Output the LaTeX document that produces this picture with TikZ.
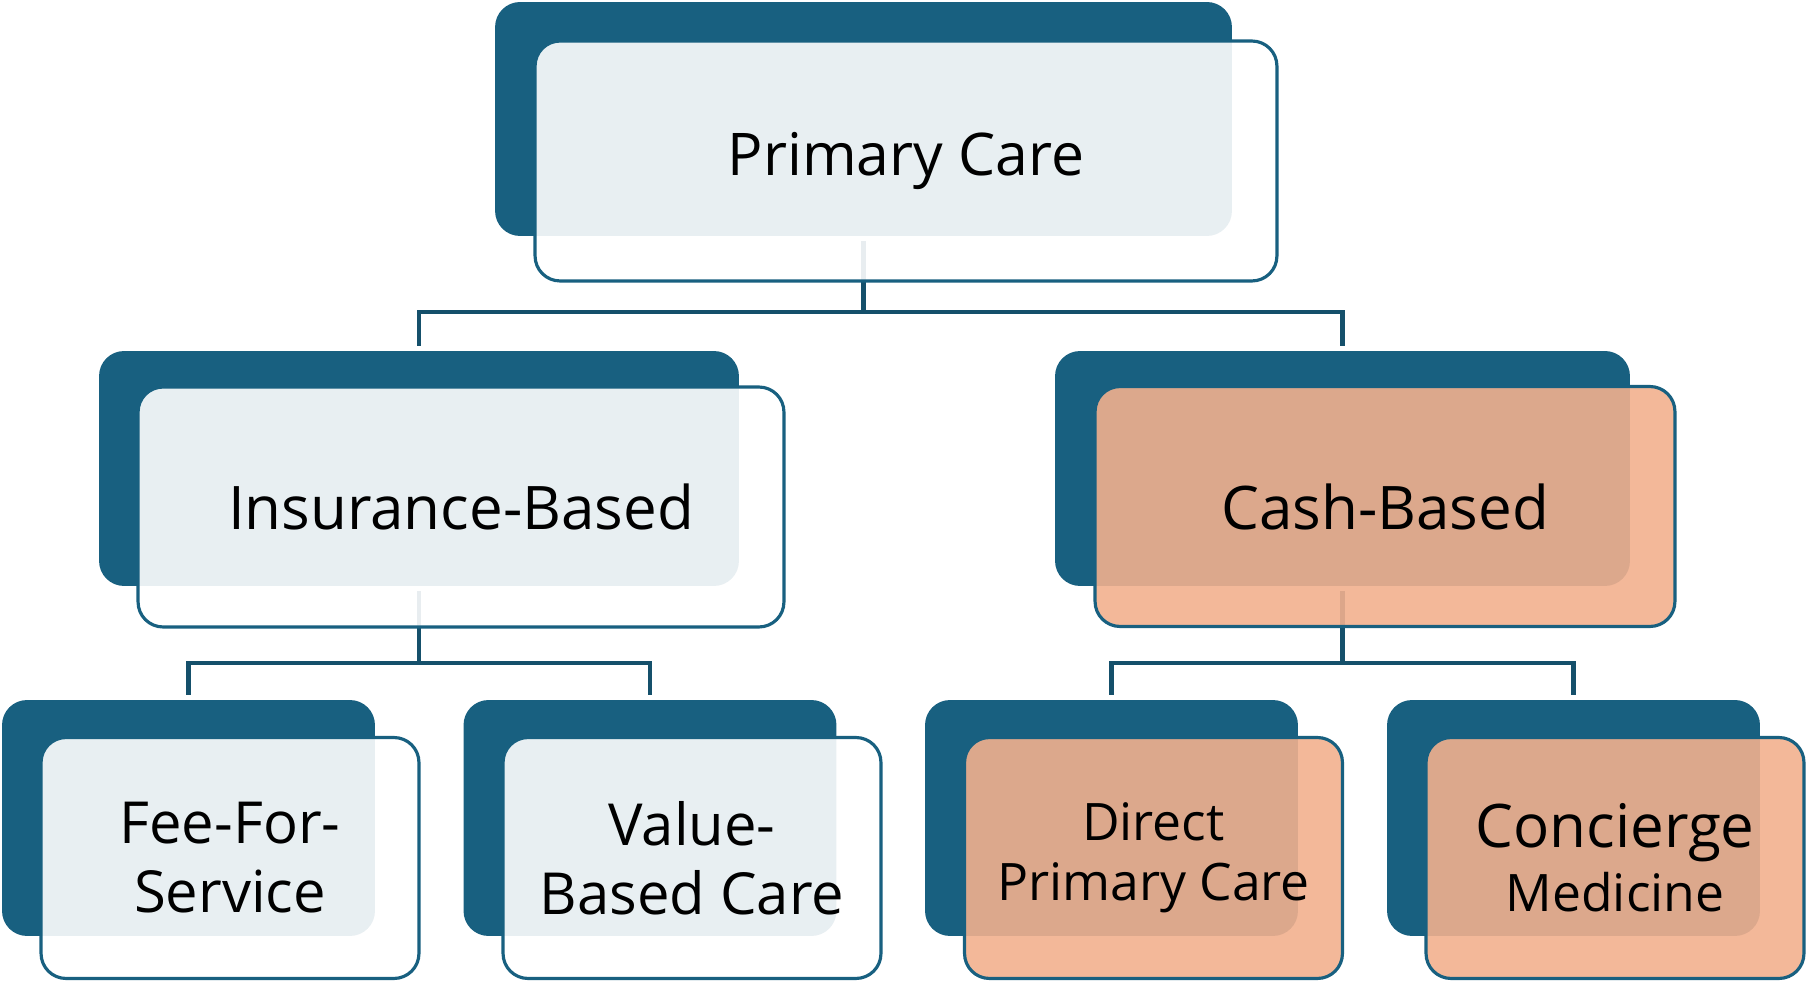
\documentclass[tikz,border=0pt]{standalone}
\usepackage{fontspec}
\setmainfont{Open Sans}
\definecolor{navy}{RGB}{24,96,128}
\definecolor{linknavy}{RGB}{21,80,107}
\definecolor{peach}{RGB}{242,176,142}

\begin{document}
\begin{tikzpicture}[x=0.02cm,y=-0.02cm,
  back/.style={fill=navy, rounded corners=0.5cm, inner sep=0pt, outer sep=0pt},
  front/.style={draw=navy, line width=1.8pt, fill=white, fill opacity=0.9, text opacity=1,
    rounded corners=0.5cm, inner sep=0pt, outer sep=0pt, align=center},
  cash/.style={front, fill=peach},
  link/.style={draw=linknavy, line width=2.3pt},
  topbox/.style={minimum width=14.74cm, minimum height=4.68cm},
  insbox/.style={minimum width=12.8cm, minimum height=4.7cm},
  cashbox/.style={minimum width=11.5cm, minimum height=4.7cm},
  leafbox/.style={minimum width=7.46cm, minimum height=4.72cm}]
\useasboundingbox (0,0) rectangle (1806,982);
%----------back plates-------------------------
\node[back, topbox] (pc-b) at (863.5,119) {};
\node[back, insbox] (ins-b) at (419,468.5) {};
\node[back, cashbox] (cash-b) at (1342.5,468.5) {};
\node[back, leafbox] (fee-b) at (188.5,818) {};
\node[back, leafbox] (val-b) at (650,818) {};
\node[back, leafbox] (dpc-b) at (1111.5,818) {};
\node[back, leafbox] (con-b) at (1573.5,818) {};
%----------links-------------------------------
\draw[link] ([yshift=-0.1cm]pc-b.south) -- ++(0,71) coordinate (pc-bar);
\draw[link] (pc-bar) -| ([yshift=0.1cm]ins-b.north);
\draw[link] (pc-bar) -| ([yshift=0.1cm]cash-b.north);
\draw[link] ([yshift=-0.1cm]ins-b.south) -- ++(0,72) coordinate (ins-bar);
\draw[link] (ins-bar) -| ([yshift=0.1cm]fee-b.north);
\draw[link] (ins-bar) -| ([yshift=0.1cm]val-b.north);
\draw[link] ([yshift=-0.1cm]cash-b.south) -- ++(0,72) coordinate (cash-bar);
\draw[link] (cash-bar) -| ([yshift=0.1cm]dpc-b.north);
\draw[link] (cash-bar) -| ([yshift=0.1cm]con-b.north);
%----------front cards-------------------------
\node[front, minimum width=14.84cm, minimum height=4.8cm,
  font=\fontsize{33.5}{40}\selectfont] (pc) at (906,161) {Primary Care};
\node[front, minimum width=12.92cm, minimum height=4.8cm,
  font=\fontsize{34.2}{40}\selectfont] (ins) at (461,507) {Insurance-Based};
\node[cash, minimum width=11.6cm, minimum height=4.8cm,
  font=\fontsize{34.2}{40}\selectfont] (cash) at (1385,506.5) {Cash-Based};
\node[front, minimum width=7.56cm, minimum height=4.82cm,
  font=\fontsize{33}{39.3}\selectfont] (fee) at (230,858) {Fee-For-\\Service};
\node[front, minimum width=7.56cm, minimum height=4.82cm,
  font=\fontsize{33}{39.3}\selectfont] (val) at (692,858) {Value-\\Based Care};
\node[cash, minimum width=7.56cm, minimum height=4.82cm,
  font=\fontsize{29.4}{34.1}\selectfont] (dpc) at (1153.5,858) {Direct\\Primary Care};
\node[cash, minimum width=7.56cm, minimum height=4.82cm,
  font=\fontsize{29.4}{36.4}\selectfont] (con) at (1615,858)
  {{\fontsize{34.2}{36.4}\selectfont Concierge}\\Medicine};
\end{tikzpicture}
\end{document}
